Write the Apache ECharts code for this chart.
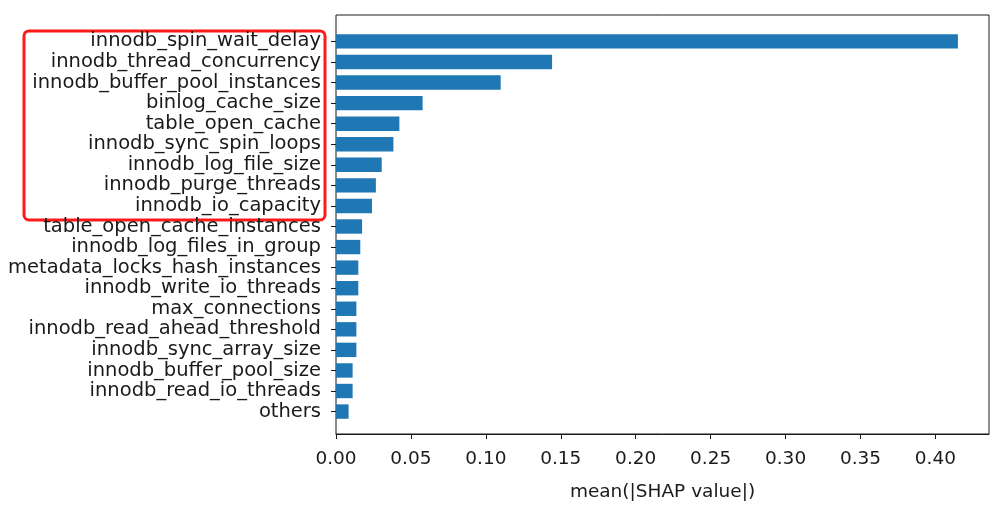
<!DOCTYPE html>
<html><head><meta charset="utf-8">
<script src="https://cdn.jsdelivr.net/npm/echarts@6/dist/echarts.min.js"></script>
<style>html,body{margin:0;padding:0;background:#fff}#c{width:1006px;height:507px}</style>
</head><body><div id="c"></div>
<script>
const categories = [
  "innodb_spin_wait_delay","innodb_thread_concurrency","innodb_buffer_pool_instances",
  "binlog_cache_size","table_open_cache","innodb_sync_spin_loops","innodb_log_file_size",
  "innodb_purge_threads","innodb_io_capacity","table_open_cache_instances",
  "innodb_log_files_in_group","metadata_locks_hash_instances","innodb_write_io_threads",
  "max_connections","innodb_read_ahead_threshold","innodb_sync_array_size",
  "innodb_buffer_pool_size","innodb_read_io_threads","others"
];
const values = [0.415,0.1442,0.1099,0.0578,0.0423,0.0383,0.0305,0.0266,0.0240,0.0174,
  0.0162,0.0149,0.0149,0.0136,0.0136,0.0136,0.0111,0.0111,0.0084];
const xTicks = [0,0.05,0.10,0.15,0.20,0.25,0.30,0.35,0.40];
const highlighted = 9; // first 9 features boxed in red

const n = categories.length;
const xMax = Math.max(...values) * 1.05;
const font = 'DejaVu Sans';
const ink = '#1a1a1a';

// frame geometry (matplotlib-like margins around the bars)
const W = 1006, H = 507;
const frame = {left: 336, right: 17, top: 15, bottom: 69};
const plotH = H - frame.top - frame.bottom;
const unitsTotal = (n - 1) + 2 * (0.35 + 0.05 * (n - 1 + 0.7));
const pxPerUnit = plotH / unitsTotal;
const extra = (0.35 + 0.05 * (n - 1 + 0.7) - 0.5) * pxPerUnit;

const chart = echarts.init(document.getElementById('c'), null, {renderer: 'canvas'});
chart.setOption({
  animation: false,
  grid: [
    Object.assign({show: true, borderColor: ink, borderWidth: 1, backgroundColor: 'transparent'}, frame),
    {left: frame.left, right: frame.right, top: frame.top + extra, bottom: frame.bottom + extra}
  ],
  xAxis: [{
    gridIndex: 0, type: 'value', min: 0, max: xMax,
    splitLine: {show: false},
    axisLine: {show: true, lineStyle: {color: ink, width: 1}},
    axisTick: {show: true, length: 5, lineStyle: {color: ink}, customValues: xTicks},
    axisLabel: {customValues: xTicks, formatter: v => v.toFixed(2), color: ink, fontFamily: font, fontSize: 18.5, margin: 16},
    name: 'mean(|SHAP value|)', nameLocation: 'middle', nameGap: 49,
    nameTextStyle: {color: ink, fontFamily: font, fontSize: 18.5}
  }, {
    gridIndex: 1, type: 'value', min: 0, max: xMax, show: false
  }],
  yAxis: [{
    gridIndex: 0, type: 'value', min: 0, max: 1, show: false
  }, {
    gridIndex: 1, type: 'category', inverse: true, data: categories,
    axisLine: {show: false},
    splitLine: {show: false},
    axisTick: {show: true, alignWithLabel: true, length: 5, lineStyle: {color: ink}},
    axisLabel: {color: ink, fontFamily: font, fontSize: 19.5, margin: 15, interval: 0, padding: [3, 0, 0, 0]}
  }],
  series: [{
    type: 'bar', xAxisIndex: 1, yAxisIndex: 1,
    barCategoryGap: '30%',
    itemStyle: {color: '#1f77b4'},
    data: values
  }]
});

// red annotation box around the top features' labels
const p0 = chart.convertToPixel({xAxisIndex: 1, yAxisIndex: 1}, [0, 0]);
const p1 = chart.convertToPixel({xAxisIndex: 1, yAxisIndex: 1}, [0, highlighted - 1]);
chart.setOption({
  graphic: [{
    type: 'rect', silent: true,
    shape: {x: 24, y: p0[1] - 10.5, width: 301, height: (p1[1] - p0[1]) + 24.5, r: 5},
    style: {fill: 'none', stroke: '#ff1a1a', lineWidth: 3}
  }]
});
</script></body></html>
